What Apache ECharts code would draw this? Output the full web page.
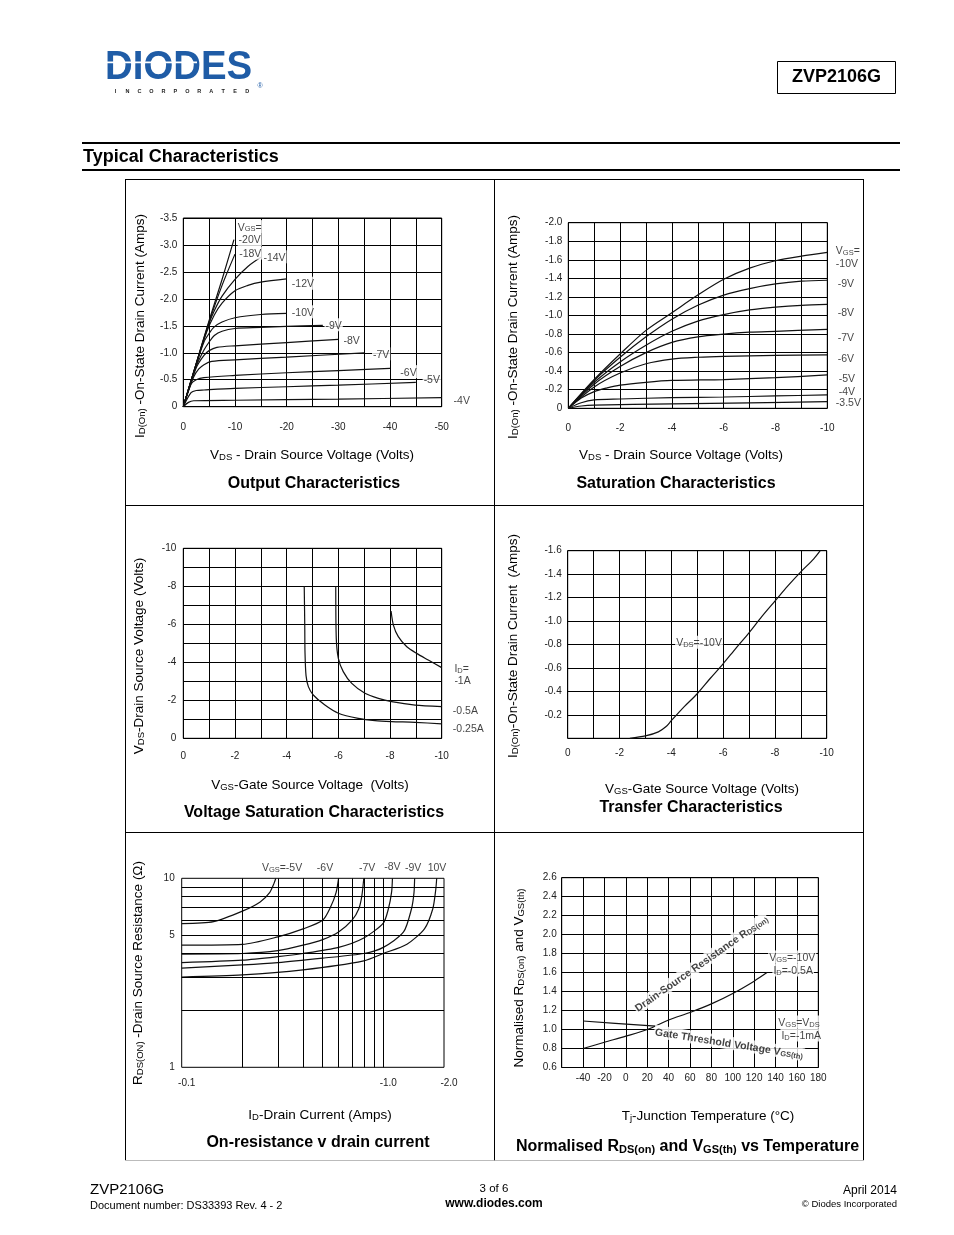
<!DOCTYPE html>
<html><head><meta charset="utf-8">
<script src="https://cdn.jsdelivr.net/npm/echarts@6/dist/echarts.min.js"></script>
<style>html,body{margin:0;padding:0;background:#fff}#c{width:954px;height:1235px}</style>
</head><body><div id="c"></div>
<script>
// ================= DATA =================
// Output characteristics: [VDS (V), ID (A)] per VGS
const out_vgs20 = [[0,0],[-2.5,-0.8],[-5,-1.6],[-7.5,-2.36],[-9.8,-3.1]];
const out_vgs18 = [[0,0],[-2.5,-0.8],[-5,-1.57],[-7.5,-2.25],[-10,-2.83]];
const out_vgs14 = [[0,0],[-2.5,-0.8],[-5,-1.55],[-6,-1.78],[-7.5,-2.05],[-10,-2.36],[-12.5,-2.6],[-15,-2.77]];
const out_vgs12 = [[0,0],[-2.5,-0.79],[-4.5,-1.38],[-6,-1.7],[-7.5,-1.92],[-10,-2.15],[-12.5,-2.25],[-15,-2.31],[-20,-2.37]];
const out_vgs10 = [[0,0],[-2.5,-0.78],[-4,-1.2],[-5,-1.36],[-6,-1.48],[-7.5,-1.57],[-10,-1.65],[-15,-1.71],[-20,-1.73]];
const out_vgs9  = [[0,0],[-2.5,-0.75],[-4,-1.05],[-5,-1.2],[-6,-1.32],[-7.5,-1.4],[-10,-1.45],[-15,-1.47],[-20,-1.49],[-27,-1.51]];
const out_vgs8  = [[0,0],[-2.5,-0.72],[-4,-0.95],[-5,-1.04],[-6.5,-1.1],[-10,-1.13],[-20,-1.19],[-30,-1.25]];
const out_vgs7  = [[0,0],[-2,-0.55],[-3,-0.7],[-4,-0.78],[-5.5,-0.84],[-10,-0.87],[-20,-0.92],[-35,-1.0]];
const out_vgs6  = [[0,0],[-1.5,-0.42],[-2.5,-0.5],[-4,-0.54],[-10,-0.58],[-20,-0.63],[-30,-0.67],[-40,-0.71]];
const out_vgs5  = [[0,0],[-1.5,-0.26],[-2.5,-0.3],[-4,-0.31],[-10,-0.34],[-20,-0.37],[-30,-0.4],[-45,-0.45]];
const out_vgs4  = [[0,0],[-1,-0.08],[-2,-0.11],[-10,-0.12],[-30,-0.14],[-50,-0.17]];

// Saturation characteristics: [VDS, ID] per VGS
const sat_vgs10 = [[0,0],[-1,-0.31],[-2,-0.585],[-3,-0.84],[-4,-1.03],[-5,-1.22],[-6,-1.39],[-7,-1.51],[-8,-1.59],[-9,-1.64],[-10,-1.68]];
const sat_vgs9  = [[0,0],[-1,-0.3],[-2,-0.55],[-3,-0.77],[-4,-0.96],[-5,-1.11],[-6,-1.22],[-7,-1.29],[-8,-1.34],[-9,-1.37],[-10,-1.38]];
const sat_vgs8  = [[0,0],[-1,-0.28],[-2,-0.5],[-3,-0.68],[-4,-0.83],[-5,-0.94],[-6,-1.01],[-7,-1.06],[-8,-1.09],[-9,-1.11],[-10,-1.12]];
const sat_vgs7  = [[0,0],[-1,-0.26],[-2,-0.45],[-3,-0.6],[-4,-0.71],[-5,-0.77],[-6,-0.8],[-7,-0.82],[-8,-0.83],[-10,-0.85]];
const sat_vgs6  = [[0,0],[-1,-0.23],[-2,-0.38],[-3,-0.48],[-4,-0.53],[-5,-0.55],[-6,-0.56],[-8,-0.57],[-10,-0.575]];
const sat_vgs5  = [[0,0],[-0.5,-0.11],[-1,-0.18],[-1.5,-0.22],[-2,-0.25],[-3,-0.28],[-4,-0.3],[-6,-0.31],[-8,-0.33],[-10,-0.36]];
const sat_vgs4  = [[0,0],[-0.5,-0.06],[-1,-0.09],[-2,-0.1],[-4,-0.115],[-6,-0.122],[-8,-0.133],[-10,-0.144]];
const sat_vgs35 = [[0,0],[-0.5,-0.025],[-1,-0.035],[-4,-0.047],[-7,-0.058],[-10,-0.072]];

// Voltage saturation: [VGS, VDS] per ID
const vs_id025 = [[-4.68,-8.0],[-4.7,-6.0],[-4.71,-4.5],[-4.75,-3.3],[-4.84,-2.72],[-5.03,-2.28],[-5.48,-1.75],[-6.0,-1.32],[-6.77,-1.05],[-7.42,-0.93],[-8.06,-0.88],[-8.97,-0.84],[-10,-0.76]];
const vs_id05  = [[-5.9,-8.0],[-5.92,-5.26],[-6.0,-4.21],[-6.19,-3.51],[-6.52,-2.89],[-7.03,-2.37],[-7.55,-2.1],[-8.06,-1.93],[-8.97,-1.75],[-10,-1.67]];
const vs_id1   = [[-8.04,-6.7],[-8.13,-5.96],[-8.32,-5.35],[-8.65,-4.82],[-9.03,-4.47],[-9.48,-4.12],[-10,-3.72]];

// Transfer characteristics: [VGS, ID]
const tr_vds10 = [[-2.4,0],[-3,-0.02],[-3.5,-0.055],[-3.8,-0.1],[-4,-0.15],[-4.5,-0.27],[-5,-0.38],[-5.5,-0.51],[-6,-0.635],[-6.5,-0.77],[-7,-0.9],[-7.5,-1.04],[-8,-1.17],[-8.5,-1.3],[-9,-1.42],[-9.5,-1.53],[-9.75,-1.6]];

// On-resistance vs drain current: [|ID| (A), RDS(on) (ohm)] per VGS
const ron_vgs5  = [[0.1,5.76],[0.144,5.9],[0.2,6.7],[0.245,7.5],[0.273,8.4],[0.287,9.4],[0.293,10]];
const ron_vgs6  = [[0.1,4.43],[0.2,4.47],[0.3,4.9],[0.4,5.4],[0.5,6.0],[0.546,7.0],[0.583,8.4],[0.6,10]];
const ron_vgs7  = [[0.1,3.97],[0.2,4.0],[0.3,4.14],[0.4,4.43],[0.5,4.74],[0.6,5.2],[0.7,6.0],[0.756,6.9],[0.783,8.1],[0.8,10]];
const ron_vgs8  = [[0.1,3.58],[0.2,3.69],[0.3,3.85],[0.4,4.0],[0.6,4.31],[0.8,4.83],[1.0,5.8],[1.06,6.9],[1.1,8.5],[1.11,10]];
const ron_vgs9  = [[0.1,3.35],[0.2,3.48],[0.3,3.58],[0.5,3.78],[0.8,4.0],[1.0,4.31],[1.26,5.2],[1.38,6.9],[1.42,8.4],[1.43,10]];
const ron_vgs10 = [[0.1,3.0],[0.2,3.08],[0.4,3.28],[0.8,3.66],[1.0,4.0],[1.31,4.48],[1.6,5.4],[1.76,6.9],[1.82,8.7],[1.84,10]];
const ron_xGrid = [0.2,0.3,0.4,0.5,0.6,0.7,0.8,0.9,1.0];
const ron_yGrid = [2,3,4,5,6,7,8,9];
const ron_xTicks = [0.1,1.0,2.0];
const ron_yTicks = [1,5,10];

// Normalised vs temperature: [Tj (°C), normalised value]
const nt_rds = [[-40,0.80],[-20,0.866],[0,0.93],[20,1.0],[40,1.10],[60,1.18],[80,1.27],[100,1.38],[120,1.51],[132,1.60]];
const nt_vth = [[-40,1.09],[-10,1.065],[28,1.035]];

// ================= BUILD =================
const FF = '"Liberation Sans", Arial, Helvetica, sans-serif';
const BLK = '#000';

const grids = [
  {left:183.3, top:218, width:258.4, height:188.7},
  {left:568.3, top:222.7, width:259, height:185.6},
  {left:183.3, top:548.3, width:258.4, height:190},
  {left:567.7, top:550.7, width:259, height:187.6},
  {left:181.7, top:878.3, width:262.3, height:189},
  {left:561.7, top:877.7, width:256.6, height:189.8}
].map(g => Object.assign({show:true, borderColor:BLK, borderWidth:1, backgroundColor:'transparent'}, g));

function valAxis(gi, min, max, interval, fmt, margin, inverse) {
  return {
    type:'value', gridIndex:gi, min, max, interval, inverse,
    axisLine:{show:false}, axisTick:{show:false},
    splitLine:{show:true, lineStyle:{color:BLK, width:1}},
    axisLabel:{formatter:fmt, margin, fontSize:10, color:'#222', fontFamily:FF}
  };
}
const every2 = v => (Math.round(v) % 2 === 0 ? String(Math.round(v)) : '');
const dec1 = v => (Math.abs(v) < 1e-9 ? '0' : v.toFixed(1));

const xAxes = [
  valAxis(0, -50, 0, 5, v => (Math.round(v) % 10 === 0 ? String(Math.round(v)) : ''), 16, true),
  valAxis(1, -10, 0, 1, every2, 15, true),
  valAxis(2, -10, 0, 1, every2, 13, true),
  valAxis(3, -10, 0, 1, every2, 10, true),
  {type:'log', gridIndex:4, logBase:10, min:0.1, max:2,
   axisLine:{show:false}, axisTick:{show:false}, splitLine:{show:false},
   axisLabel:{customValues:ron_xTicks, formatter: v => '-' + Number(v).toFixed(1), margin:11, fontSize:10, color:'#222', fontFamily:FF, padding:[0,0,0,10]}},
  valAxis(5, -60, 180, 20, v => (Math.round(v) === -60 ? '' : String(Math.round(v))), 6, false)
];
const yAxes = [
  valAxis(0, -3.5, 0, 0.5, dec1, 6, true),
  valAxis(1, -2, 0, 0.2, dec1, 6, true),
  valAxis(2, -10, 0, 1, every2, 7, true),
  valAxis(3, -1.6, 0, 0.2, v => (Math.abs(v) < 1e-9 ? '' : v.toFixed(1)), 6, true),
  {type:'log', gridIndex:4, logBase:10, min:1, max:10,
   axisLine:{show:false}, axisTick:{show:false}, splitLine:{show:false},
   axisLabel:{customValues:ron_yTicks, formatter: v => String(Math.round(v)), margin:7, fontSize:10, color:'#222', fontFamily:FF}},
  valAxis(5, 0.6, 2.6, 0.2, v => v.toFixed(1), 5, false)
];

const series = [];
function curve(gi, data, extra) {
  series.push(Object.assign({
    type:'line', xAxisIndex:gi, yAxisIndex:gi, data, symbol:'none', showSymbol:false,
    smooth:0.3, silent:true, z:3,
    lineStyle:{color:'#111', width:1.2}
  }, extra || {}));
}
[out_vgs20,out_vgs18,out_vgs14,out_vgs12,out_vgs10,out_vgs9,out_vgs8,out_vgs7,out_vgs6,out_vgs5,out_vgs4].forEach(d => curve(0, d));
[sat_vgs10,sat_vgs9,sat_vgs8,sat_vgs7,sat_vgs6,sat_vgs5,sat_vgs4,sat_vgs35].forEach(d => curve(1, d));
[vs_id025,vs_id05,vs_id1].forEach(d => curve(2, d, {smooth:0.25}));
curve(3, tr_vds10);
[ron_vgs5,ron_vgs6,ron_vgs7,ron_vgs8,ron_vgs9,ron_vgs10].forEach(d => curve(4, d, {smooth:0.25}));
// extra log-axis grid lines (decade sub-divisions)
series[series.length - 1].markLine = {
  silent:true, symbol:['none','none'], label:{show:false}, animation:false,
  lineStyle:{color:BLK, width:1, type:'solid'},
  data: ron_xGrid.map(v => ({xAxis:v})).concat(ron_yGrid.map(v => ({yAxis:v})))
};
curve(5, nt_rds);
curve(5, nt_vth, {smooth:0});

// ---- in-plot annotations (anchored in data coordinates) ----
const lr = {
  n:{fontSize:10.5, fontFamily:FF, color:'#111', lineHeight:13, verticalAlign:'bottom'},
  s:{fontSize:7.5, fontFamily:FF, color:'#111', lineHeight:11, verticalAlign:'bottom'},
  nb:{fontSize:10.5, fontFamily:FF, fontWeight:'bold', color:'#111', lineHeight:13, verticalAlign:'bottom'},
  sb:{fontSize:7.5, fontFamily:FF, fontWeight:'bold', color:'#111', lineHeight:11, verticalAlign:'bottom'}
};
function notes(gi, items, pos, bg) {
  series.push({
    type:'scatter', xAxisIndex:gi, yAxisIndex:gi, symbolSize:0.1, clip:false, silent:true, z:10,
    itemStyle:{color:'transparent'},
    label:{show:true, position:pos, distance:0, formatter:p => p.name, rich:lr,
           backgroundColor: bg ? '#fff' : 'transparent', padding:[0,1]},
    data: items.map(it => ({name:it.t, value:it.at, label:{rotate: it.rot || 0}}))
  });
}
notes(0, [
  {at:[-10.33,-3.34], t:'{n|V}{s|GS}{n|=}'},
  {at:[-10.5,-3.10], t:'{n|-20V}'},
  {at:[-10.6,-2.85], t:'{n|-18V}'},
  {at:[-15.3,-2.78], t:'{n|-14V}'},
  {at:[-20.8,-2.29], t:'{n|-12V}'},
  {at:[-20.8,-1.76], t:'{n|-10V}'},
  {at:[-27.3,-1.52], t:'{n|-9V}'},
  {at:[-30.8,-1.24], t:'{n|-8V}'},
  {at:[-36.5,-0.98], t:'{n|-7V}'},
  {at:[-41.8,-0.65], t:'{n|-6V}'},
  {at:[-46.3,-0.51], t:'{n|-5V}'},
  {at:[-52.1,-0.12], t:'{n|-4V}'}
], 'right', true);
notes(1, [
  {at:[-10.29,-1.70], t:'{n|V}{s|GS}{n|=}'},
  {at:[-10.29,-1.56], t:'{n|-10V}'},
  {at:[-10.36,-1.35], t:'{n|-9V}'},
  {at:[-10.36,-1.04], t:'{n|-8V}'},
  {at:[-10.36,-0.77], t:'{n|-7V}'},
  {at:[-10.36,-0.54], t:'{n|-6V}'},
  {at:[-10.4,-0.32], t:'{n|-5V}'},
  {at:[-10.4,-0.18], t:'{n|-4V}'},
  {at:[-10.29,-0.07], t:'{n|-3.5V}'}
], 'right', false);
notes(2, [
  {at:[-10.45,-3.68], t:'{n|I}{s|D}{n|=}'},
  {at:[-10.45,-3.07], t:'{n|-1A}'},
  {at:[-10.39,-1.49], t:'{n|-0.5A}'},
  {at:[-10.39,-0.53], t:'{n|-0.25A}'}
], 'right', false);
notes(3, [{at:[-5.07,-0.82], t:'{n|V}{s|DS}{n|=-10V}'}], 'inside', true);
notes(4, [
  {at:[0.3146,11.48], t:'{n|V}{s|GS}{n|=-5V}'},
  {at:[0.514,11.48], t:'{n|-6V}'},
  {at:[0.831,11.48], t:'{n|-7V}'},
  {at:[1.11,11.6], t:'{n|-8V}'},
  {at:[1.407,11.48], t:'{n|-9V}'},
  {at:[1.846,11.48], t:'{n|10V}'}
], 'inside', false);
notes(5, [
  {at:[155.6,1.764], t:'{n|V}{s|GS}{n|=-10V}'},
  {at:[156.5,1.627], t:'{n|I}{s|D}{n|=-0.5A}'},
  {at:[162,1.08], t:'{n|V}{s|GS}{n|=V}{s|DS}'},
  {at:[164,0.942], t:'{n|I}{s|D}{n|=-1mA}'},
  {at:[70.4,1.70], t:'{nb|Drain-Source Resistance R}{sb|DS(on)}', rot:35},
  {at:[96.7,0.858], t:'{nb|Gate Threshold Voltage V}{sb|GS(th)}', rot:-9}
], 'inside', true);

// ---- page furniture ----
function gr(size, sub, bold) {
  const w = bold ? 'bold' : 'normal';
  return {
    n:{fontSize:size, fontFamily:FF, fontWeight:w, fill:'#000', lineHeight:size+4, verticalAlign:'bottom'},
    s:{fontSize:sub, fontFamily:FF, fontWeight:w, fill:'#000', lineHeight:sub+5, verticalAlign:'bottom'}
  };
}
function txt(x, y, text, o) {
  o = o || {};
  return {type:'text', x, y, rotation:o.rot || 0, silent:true, z:5,
    style:{text, rich:o.rich, fontSize:o.size || 13.5, fontFamily:FF, fontWeight:o.bold ? 'bold' : 'normal',
           fill:o.fill || '#000', align:o.align || 'center', verticalAlign:'middle'}};
}
function ln(x1, y1, x2, y2, w, c) {
  return {type:'line', silent:true, z:4, shape:{x1, y1, x2, y2}, style:{stroke:c || BLK, lineWidth:w || 1}};
}
const AX = gr(13.5, 9.5, false);
const TT = gr(16, 11, true);
const R90 = Math.PI / 2;

const graphics = [
  // logo
  {type:'text', x:105, y:67.5, scaleX:0.96, silent:true, z:5,
   style:{text:'DIODES', fontSize:40, fontWeight:'bold', fontFamily:FF, fill:'#1f5ca6', align:'left', verticalAlign:'middle'}},
  {type:'rect', silent:true, z:6, shape:{x:105, y:61.6, width:92, height:1.6}, style:{fill:'#fff'}},
  txt(260, 86, '®', {size:7, fill:'#1f5ca6'}),
  // part number box
  {type:'rect', silent:true, z:4, shape:{x:777.5, y:61.5, width:118, height:32}, style:{fill:'none', stroke:BLK, lineWidth:1}},
  txt(836.5, 77.5, 'ZVP2106G', {size:18, bold:true}),
  // section heading
  ln(82, 143, 900, 143, 2),
  txt(83, 157, 'Typical Characteristics', {size:18, bold:true, align:'left'}),
  ln(82, 170, 900, 170, 2),
  // frame
  ln(125, 179.5, 864, 179.5), ln(125.5, 179, 125.5, 1161), ln(863.5, 179, 863.5, 1161),
  ln(494.5, 179, 494.5, 1161), ln(125, 505.5, 864, 505.5), ln(125, 832.5, 864, 832.5),
  ln(125, 1160.5, 864, 1160.5, 1, '#bbb'),
  // chart 1
  txt(139, 326, '{n|I}{s|D(On)}{n| -On-State Drain Current (Amps)}', {rich:AX, rot:R90}),
  txt(312, 454, '{n|V}{s|DS}{n| - Drain Source Voltage (Volts)}', {rich:AX}),
  txt(314, 484, 'Output Characteristics', {size:16, bold:true}),
  // chart 2
  txt(512, 327, '{n|I}{s|D(On)}{n| -On-State Drain Current (Amps)}', {rich:AX, rot:R90}),
  txt(681, 454, '{n|V}{s|DS}{n| - Drain Source Voltage (Volts)}', {rich:AX}),
  txt(676, 484, 'Saturation Characteristics', {size:16, bold:true}),
  // chart 3
  txt(138, 656, '{n|V}{s|DS}{n|-Drain Source Voltage (Volts)}', {rich:AX, rot:R90}),
  txt(310, 784, '{n|V}{s|GS}{n|-Gate Source Voltage  (Volts)}', {rich:AX}),
  txt(314, 813, 'Voltage Saturation Characteristics', {size:16, bold:true}),
  // chart 4
  txt(512, 646, '{n|I}{s|D(On)}{n|-On-State Drain Current  (Amps)}', {rich:AX, rot:R90}),
  txt(702, 788, '{n|V}{s|GS}{n|-Gate Source Voltage (Volts)}', {rich:AX}),
  txt(691, 808, 'Transfer Characteristics', {size:16, bold:true}),
  // chart 5
  txt(137, 973, '{n|R}{s|DS(ON)}{n| -Drain Source Resistance (Ω)}', {rich:AX, rot:R90}),
  txt(320, 1114, '{n|I}{s|D}{n|-Drain Current (Amps)}', {rich:AX}),
  txt(318, 1143, 'On-resistance v drain current', {size:16, bold:true}),
  // chart 6
  txt(518, 978, '{n|Normalised R}{s|DS(on)}{n| and V}{s|GS(th)}', {rich:AX, rot:R90}),
  txt(708, 1115, '{n|T}{s|j}{n|-Junction Temperature (°C)}', {rich:AX}),
  txt(687.5, 1145, '{n|Normalised R}{s|DS(on)}{n| and V}{s|GS(th)}{n| vs Temperature}', {rich:TT}),
  // footer
  txt(90, 1190, 'ZVP2106G', {size:15, align:'left'}),
  txt(90, 1206, 'Document number: DS33393 Rev. 4 - 2', {size:11, align:'left'}),
  txt(494, 1189, '3 of 6', {size:11.5}),
  txt(494, 1204, 'www.diodes.com', {size:12, bold:true}),
  txt(897, 1191, 'April 2014', {size:12, align:'right'}),
  txt(897, 1204, '© Diodes Incorporated', {size:9.5, align:'right'})
];
'INCORPORATED'.split('').forEach((ch, i) => {
  graphics.push(txt(115.5 + i * 11.97, 91, ch, {size:5.5, bold:true, fill:'#222'}));
});

const chart = echarts.init(document.getElementById('c'), null, {renderer:'canvas'});
chart.setOption({
  backgroundColor:'#fff',
  animation:false,
  textStyle:{fontFamily:FF},
  grid:grids, xAxis:xAxes, yAxis:yAxes, series, graphic:graphics
});
</script>
</body></html>
